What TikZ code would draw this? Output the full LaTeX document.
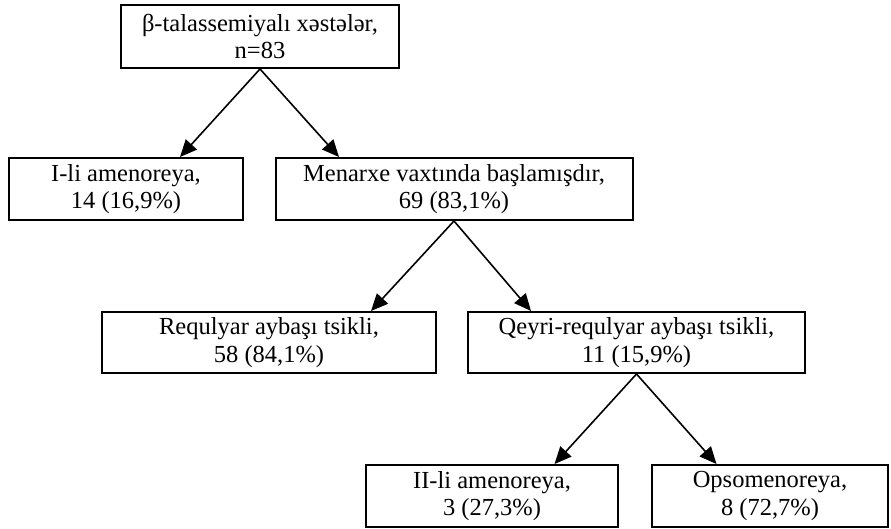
\documentclass[tikz,border=0pt]{standalone}
\usepackage{fontspec}
\setmainfont{Liberation Serif}
\usetikzlibrary{arrows.meta,calc}

\tikzset{
    box/.style={draw,line width=2pt,inner sep=0pt,align=center,
        font=\fontsize{24.5pt}{27.5pt}\selectfont},
    arr/.style={line width=1.6pt,-{Triangle[length=17pt,width=15pt]}}
}

\begin{document}
\begin{tikzpicture}[x=1pt,y=-1pt]
\path[fill=white] (0,0) rectangle (891,529);
\useasboundingbox (0,0) rectangle (891,529);
\draw
    (260,36.5) node [box,minimum width=278pt,minimum height=63pt] (root)
        {β-talassemiyalı xəstələr,\\n=83}
    (126,189) node [box,minimum width=234pt,minimum height=62pt] (amen1)
        {I-li amenoreya,\\14 (16,9\%)}
    (454,189) node [box,minimum width=357pt,minimum height=62pt] (menarxe)
        {Menarxe vaxtında başlamışdır,\\69 (83,1\%)}
    (269,342.5) node [box,minimum width=334pt,minimum height=61pt] (regular)
        {Requlyar aybaşı tsikli,\\58 (84,1\%)}
    (636.5,342.5) node [box,minimum width=337pt,minimum height=61pt] (irregular)
        {Qeyri-requlyar aybaşı tsikli,\\11 (15,9\%)}
    (492,496) node [box,minimum width=252pt,minimum height=62pt] (amen2)
        {II-li amenoreya,\\3 (27,3\%)}
    (770,496) node [box,minimum width=236pt,minimum height=62pt] (opso)
        {Opsomenoreya,\\8 (72,7\%)};
\draw (root.south) [arr] -- ($(root.south |- amen1.north)+(-80,0)$);
\draw (root.south) [arr] -- ($(root.south |- menarxe.north)+(79,0)$);
\draw (menarxe.south) [arr] -- ($(menarxe.south |- regular.north)+(-83,0)$);
\draw (menarxe.south) [arr] -- ($(menarxe.south |- irregular.north)+(77,0)$);
\draw (irregular.south) [arr] -- ($(irregular.south |- amen2.north)+(-82,0)$);
\draw (irregular.south) [arr] -- ($(irregular.south |- opso.north)+(80,0)$);
\end{tikzpicture}
\end{document}
